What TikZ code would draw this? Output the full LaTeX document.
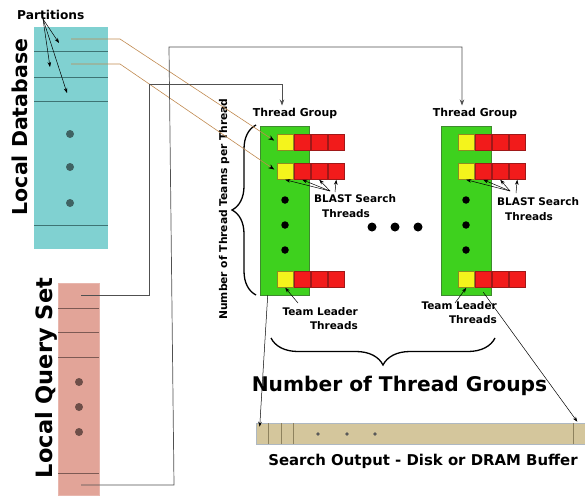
\documentclass[tikz,border=0pt]{standalone}
\usepackage{fontspec}
\setmainfont{DejaVu Sans}
\usetikzlibrary{arrows.meta,calc,decorations.pathreplacing}
\definecolor{dbfill}{HTML}{80D1D1}
\definecolor{dbline}{HTML}{3E7474}
\definecolor{dbdot}{HTML}{3F6363}
\definecolor{qsfill}{HTML}{E2A498}
\definecolor{qsline}{HTML}{7D5A54}
\definecolor{qsdot}{HTML}{6E4E48}
\definecolor{grn}{HTML}{3ED11E}
\definecolor{grnD}{HTML}{3E8A2E}
\definecolor{yel}{HTML}{F4F41C}
\definecolor{yelD}{HTML}{8C8C20}
\definecolor{red1}{HTML}{F21B1B}
\definecolor{redD}{HTML}{A01818}
\definecolor{tan1}{HTML}{D4C69C}
\definecolor{tanD}{HTML}{8E825E}
\definecolor{tanB}{HTML}{AEB8C2}
\definecolor{brn}{HTML}{C08A50}
\definecolor{conn}{HTML}{505050}
\begin{document}
\begin{tikzpicture}[x=1pt,y=-1pt,
  lbl/.style={font=\bfseries\fontsize{10.5}{15}\selectfont, inner sep=0},
  arr/.style={-{Stealth[length=5pt,width=3.6pt]}, line width=0.5pt},
  connline/.style={draw=conn, line width=0.7pt, -{Stealth[length=6pt,width=4.5pt]}},
  brnline/.style={draw=brn, line width=0.6pt, -{Stealth[black,length=6pt,width=4.5pt]}, shorten >=3pt},
  cellY/.style={draw=yelD, fill=yel, line width=0.5pt, inner sep=0, minimum width=16.5pt, minimum height=16.5pt},
  cellR/.style={draw=redD, fill=red1, line width=0.5pt, inner sep=0, minimum width=16.5pt, minimum height=16.5pt},
  grp/.style={draw=grnD, fill=grn, line width=0.6pt, inner sep=0, minimum width=49pt, minimum height=169pt},
  bigdot/.style={circle, fill=black, inner sep=0, minimum size=7.5pt}]
\useasboundingbox (0,0) rectangle (585,495);

% ---------- Local Database ----------
\node[fill=dbfill, inner sep=0, minimum width=74pt, minimum height=222pt] (db) at (71,138) {};
\foreach \yy in {51,77,101,225} \draw[dbline, line width=0.7pt] (34,\yy) -- (108,\yy);
\foreach \yy in {134,167,203} \fill[dbdot] (70,\yy) circle (4pt);
\node[rotate=90, anchor=base, inner sep=0, font=\bfseries\fontsize{20.5}{24}\selectfont] (dblbl) at (27,127) {Local Database};
\node[anchor=base west, inner sep=0, font=\bfseries\fontsize{12.2}{14}\selectfont] (part) at (17,20) {Partitions};
\coordinate (pt) at (43,19);
\coordinate (pa) at (59,43);
\coordinate (pb) at (50,67);
\coordinate (pc) at (67,93);
\foreach \t in {pa,pb,pc} \draw[arr] (pt) -- (\t);

% ---------- Local Query Set ----------
\node[fill=qsfill, draw=qsfill!80!white, inner sep=0, minimum width=41pt, minimum height=212pt] (qs) at (78.5,389) {};
\foreach \yy in {308,332,357,473} \draw[qsline, line width=0.7pt] (58,\yy) -- (99,\yy);
\foreach \yy in {382,407,432} \fill[qsdot] (79,\yy) circle (4pt);
\node[rotate=90, anchor=base, inner sep=0, font=\bfseries\fontsize{22.5}{26}\selectfont] (qslbl) at (52,378) {Local Query Set};

% ---------- Thread groups ----------
\node[grp] (g1) at (284.5,210.5) {};
\node[grp, minimum width=50pt] (g2) at (466,210.5) {};
\foreach \g/\x in {1/277,2/458}{
  \foreach \r/\y in {1/142.25,2/171.25,3/279.25}{
    \node[cellY] (y\g\r) at (\x+8.25,\y) {};
    \node[cellR, anchor=west] (a\g\r) at (y\g\r.east) {};
    \node[cellR, anchor=west] (b\g\r) at (a\g\r.east) {};
    \node[cellR, anchor=west] (c\g\r) at (b\g\r.east) {};
  }
}
\foreach \x in {285,466}{
  \foreach \yy in {200,225,250} \node[bigdot] at (\x,\yy) {};
}
\foreach \x in {372,395,418} \node[bigdot, minimum size=9pt] at (\x,227) {};

\node[anchor=base, inner sep=2pt, font=\bfseries\fontsize{10.9}{13}\selectfont] (tg1) at (295,116) {Thread Group};
\node[anchor=base, inner sep=2pt, font=\bfseries\fontsize{10.9}{13}\selectfont] (tg2) at (475,116) {Thread Group};

% BLAST labels and arrows
\node[lbl, anchor=base west, align=left] (bl1) at (314,217) {BLAST Search\\\hspace*{8pt}Threads};
\node[lbl, anchor=base west, align=left] (bl2) at (497,220) {BLAST Search\\\hspace*{8pt}Threads};
\coordinate (b1a) at (330,191);
\coordinate (b1b) at (335,192);
\coordinate (b2a) at (510,191);
\coordinate (b2b) at (516,193);
\foreach \t in {y12,a12,b12} \draw[arr] (b1a) -- (\t.south);
\draw[arr] (b1b) -- (c12.south);
\foreach \t in {y22,a22,b22} \draw[arr] (b2a) -- (\t.south);
\draw[arr] (b2b) -- (c22.south);

% Team leader labels and arrows
\node[lbl, anchor=base east, align=right, font=\bfseries\fontsize{10.5}{13.5}\selectfont] (tl1) at (358,329) {Team Leader\\Threads};
\node[lbl, anchor=base east, align=right, font=\bfseries\fontsize{10.5}{13.5}\selectfont] (tl2) at (497,323) {Team Leader\\Threads};
\coordinate (t1a) at (298,303);
\coordinate (t2a) at (455,303);
\draw[arr] (t1a) -- (y13.south);
\draw[arr] (t2a) -- (y23.south);

% Braces
\draw[decorate, decoration={brace, amplitude=24pt}, line width=1.3pt] (256,295) -- (256,125);
\node[rotate=90, anchor=base, inner sep=0, font=\bfseries\fontsize{10.7}{13}\selectfont] (ntt) at (227,209) {Number of Thread Teams per Thread};
\draw[decorate, decoration={brace, amplitude=27pt}, line width=1.3pt] (495,338) -- (271,338);
\node[anchor=base, inner sep=0, font=\bfseries\fontsize{20.2}{24}\selectfont] (ntg) at (399.5,391) {Number of Thread Groups};

% ---------- Output buffer ----------
\node[fill=tan1, draw=tanB, line width=0.6pt, inner sep=0, minimum width=329pt, minimum height=21pt] (buf) at (420.5,433.5) {};
\foreach \x in {268,281,293,573} \draw[tanD, line width=0.6pt] (\x,423.3) -- (\x,443.7);
\foreach \x in {318,347,375} \fill[gray!70!black] (\x,434) circle (1.8pt);
\node[anchor=base, inner sep=0, font=\bfseries\fontsize{14.9}{18}\selectfont] (sol) at (423,465) {Search Output - Disk or DRAM Buffer};

% ---------- Connectors ----------
\coordinate (p1) at (71,39);
\coordinate (p2) at (71,64);
\draw[brnline] (p1) -- (120,39) -- (y11.west);
\draw[brnline] (p2) -- (120,64) -- (y12.west);

\coordinate (q1) at (81,295);
\coordinate (q2) at (81,485);
\draw[connline] (q1) -- (149,295) -- (149,84) -| ([xshift=-13pt]tg1.north);
\draw[connline] (q2) -- (174,485) -- (169,47) -| ([xshift=-13pt]tg2.north);

\draw[arr] ([xshift=8pt]g1.south west) -- ([xshift=4pt,yshift=-4pt]buf.north west);
\draw[arr] ([xshift=-8pt,yshift=3pt]g2.south east) -- ([xshift=-8pt,yshift=1pt]buf.north east);
\end{tikzpicture}
\end{document}
